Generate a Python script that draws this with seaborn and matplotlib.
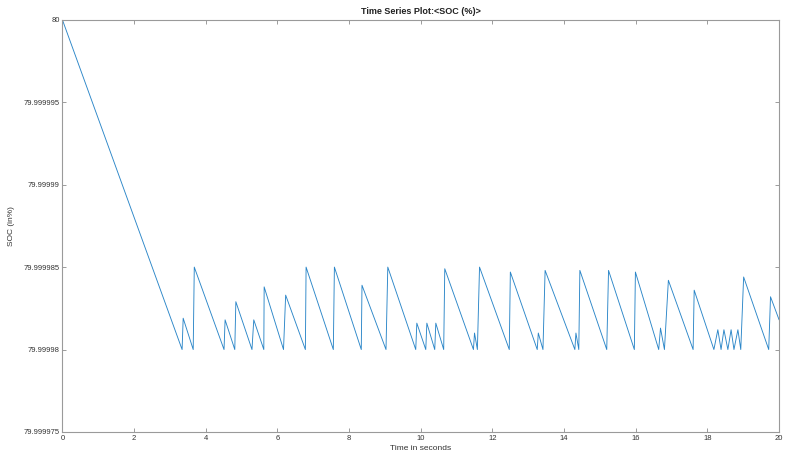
"""
Time series plot of battery SOC (%)
"""
import matplotlib
matplotlib.use('Agg')
import matplotlib.pyplot as plt
import seaborn as sns
import pandas as pd

# ================================================================================
# DATA
# ================================================================================

time_s = [0.00, 3.34, 3.37, 3.65, 3.68, 4.51, 4.54, 4.81, 4.84, 5.29,
          5.34, 5.62, 5.63, 6.17, 6.23, 6.78, 6.80, 7.56, 7.59, 8.34,
          8.36, 9.03, 9.08, 9.86, 9.89, 10.14, 10.17, 10.39, 10.42, 10.64,
          10.67, 11.47, 11.50, 11.58, 11.64, 12.47, 12.50, 13.25, 13.28, 13.41,
          13.47, 14.30, 14.33, 14.41, 14.44, 15.19, 15.24, 15.96, 15.99, 16.64,
          16.69, 16.80, 16.91, 17.60, 17.63, 18.18, 18.29, 18.38, 18.46, 18.57,
          18.66, 18.74, 18.85, 18.93, 19.01, 19.71, 19.76, 20.00]

soc = [80.0, 79.99998, 79.9999819, 79.99998, 79.999985, 79.99998, 79.9999818, 79.99998, 79.9999829, 79.99998,
       79.9999818, 79.99998, 79.9999838, 79.99998, 79.9999833, 79.99998, 79.999985, 79.99998, 79.999985, 79.99998,
       79.9999839, 79.99998, 79.999985, 79.99998, 79.9999816, 79.99998, 79.9999816, 79.99998, 79.9999816, 79.99998,
       79.9999849, 79.99998, 79.999981, 79.99998, 79.999985, 79.99998, 79.9999847, 79.99998, 79.999981, 79.99998,
       79.9999848, 79.99998, 79.999981, 79.99998, 79.9999848, 79.99998, 79.9999848, 79.99998, 79.9999847, 79.99998,
       79.9999813, 79.99998, 79.9999842, 79.99998, 79.9999836, 79.99998, 79.9999812, 79.99998, 79.9999812, 79.99998,
       79.9999812, 79.99998, 79.9999812, 79.99998, 79.9999844, 79.99998, 79.9999832, 79.9999818]

y_ticks = [79.999975, 79.99998, 79.999985, 79.99999, 79.999995, 80.0]
y_tick_labels = ['79.999975', '79.99998', '79.999985', '79.99999', '79.999995', '80']
x_ticks = [0, 2, 4, 6, 8, 10, 12, 14, 16, 18, 20]

# ================================================================================
# PLOT
# ================================================================================

sns.set_style('white')
plt.rcParams['font.family'] = ['Liberation Sans', 'DejaVu Sans']

fig = plt.figure(figsize=(7.85, 4.61), dpi=100)
ax = fig.add_axes([0.0795, 0.063, 0.913, 0.894])

df = pd.DataFrame({'time': time_s, 'soc': soc})
sns.lineplot(data=df, x='time', y='soc', sort=False, estimator=None,
             color='#2b86c8', linewidth=0.65, ax=ax)

ax.set_xlim(0, 20)
ax.set_ylim(79.999975, 80.0)
ax.set_xticks(x_ticks)
ax.set_xticklabels([str(t) for t in x_ticks])
ax.set_yticks(y_ticks)
ax.set_yticklabels(y_tick_labels)

# MATLAB-like box with inward ticks
for side in ['top', 'right', 'bottom', 'left']:
    ax.spines[side].set_visible(True)
    ax.spines[side].set_color('#9a9a9a')
    ax.spines[side].set_linewidth(0.8)
ax.tick_params(direction='in', length=3, width=0.6, color='#8c8c8c',
               labelsize=5.5, labelcolor='#333333', top=True, right=True,
               bottom=True, left=True, pad=2)

ax.set_title('Time Series Plot:<SOC (%)>', fontsize=6.5, fontweight='bold',
             color='#222222', pad=4)
ax.set_xlabel('Time in seconds', fontsize=6, color='#333333', labelpad=2)
ax.set_ylabel('SOC (in%)', fontsize=6, color='#333333', labelpad=6)

plt.savefig('out.png', dpi=100)
